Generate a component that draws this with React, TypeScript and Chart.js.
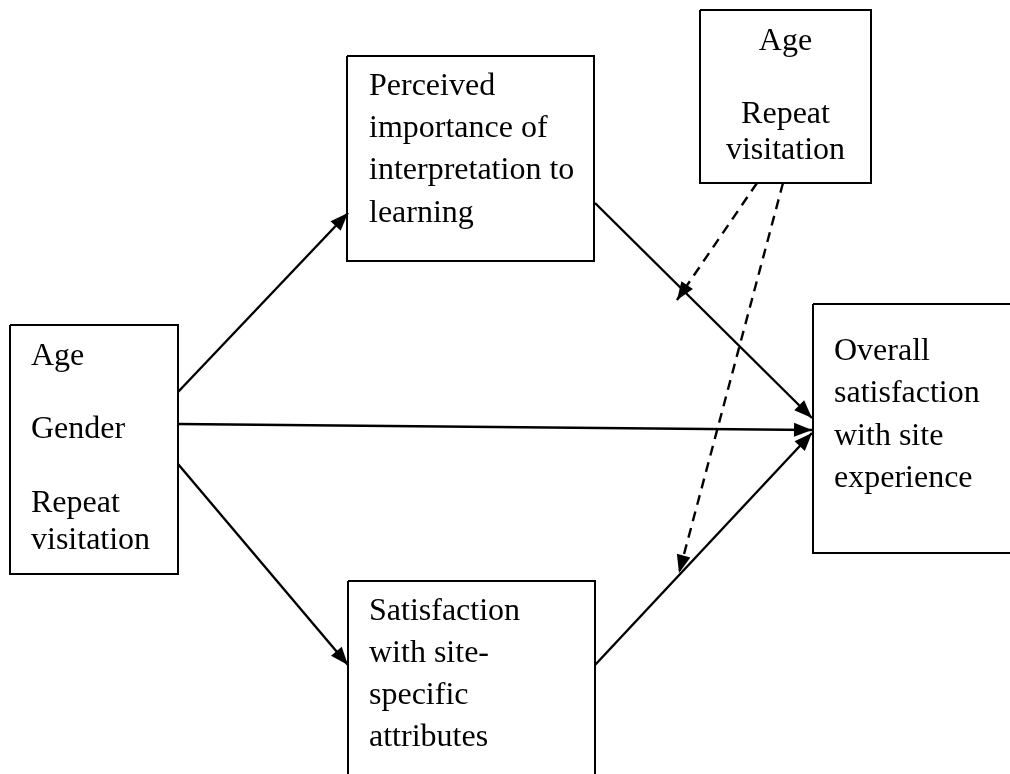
import React, { useEffect, useRef } from "react";
import { Chart, registerables } from "chart.js";

Chart.register(...registerables);

// ---- Diagram data (in picture units) ----
const boxLeft = [10, 347, 700, 813, 348];
const boxTop = [325, 56, 10, 304, 581];
const boxRight = [178, 594, 871, 1016, 595];
const boxBottom = [574, 261, 183, 553, 790];

// text labels: line text, baseline y, x anchor, centred or not
const textLines = [
  "Age", "Gender", "Repeat", "visitation",
  "Perceived", "importance of", "interpretation to", "learning",
  "Age", "Repeat", "visitation",
  "Overall", "satisfaction", "with site", "experience",
  "Satisfaction", "with site-", "specific", "attributes",
];
const textBaseline = [
  365, 438, 512, 549,
  95, 137, 179, 222,
  50, 123, 159,
  360, 402, 445, 487,
  620, 662, 704, 746,
];
const textX = [
  31, 31, 31, 31,
  369, 369, 369, 369,
  785.5, 785.5, 785.5,
  834, 834, 834, 834,
  369, 369, 369, 369,
];
const textCentered = [
  false, false, false, false,
  false, false, false, false,
  true, true, true,
  false, false, false, false,
  false, false, false, false,
];

// arrows
const arrowX1 = [178, 178, 178, 595, 595, 757, 783];
const arrowY1 = [392, 424, 464, 203, 665, 183, 183];
const arrowX2 = [348, 812, 348, 812, 812, 677, 679];
const arrowY2 = [213, 430, 665, 418, 433, 300, 573];
const arrowDashed = [false, false, false, false, false, true, true];

const W = 1010;
const H = 774;

export default function App() {
  const ref = useRef<HTMLCanvasElement | null>(null);

  useEffect(() => {
    document.body.style.margin = "0";
    const canvas = ref.current;
    if (!canvas) return;

    const datasets: any[] = [];
    for (let i = 0; i < boxLeft.length; i++) {
      datasets.push({
        data: [
          { x: boxLeft[i], y: boxTop[i] },
          { x: boxRight[i], y: boxTop[i] },
          { x: boxRight[i], y: boxBottom[i] },
          { x: boxLeft[i], y: boxBottom[i] },
          { x: boxLeft[i], y: boxTop[i] },
        ],
        showLine: true,
        borderColor: "#000",
        borderWidth: 2,
        pointRadius: 0,
        fill: false,
        tension: 0,
        borderJoinStyle: "miter",
      });
    }
    for (let i = 0; i < arrowX1.length; i++) {
      datasets.push({
        data: [
          { x: arrowX1[i], y: arrowY1[i] },
          { x: arrowX2[i], y: arrowY2[i] },
        ],
        showLine: true,
        borderColor: "#000",
        borderWidth: 2.4,
        borderDash: arrowDashed[i] ? [10, 7] : [],
        pointRadius: 0,
        fill: false,
        tension: 0,
      });
    }

    const overlay = {
      id: "overlay",
      afterDatasetsDraw(chart: any) {
        const ctx = chart.ctx;
        const xs = chart.scales.x;
        const ys = chart.scales.y;
        ctx.save();
        // arrowheads
        ctx.fillStyle = "#000";
        for (let i = 0; i < arrowX1.length; i++) {
          const x1 = xs.getPixelForValue(arrowX1[i]);
          const y1 = ys.getPixelForValue(arrowY1[i]);
          const x2 = xs.getPixelForValue(arrowX2[i]);
          const y2 = ys.getPixelForValue(arrowY2[i]);
          const ang = Math.atan2(y2 - y1, x2 - x1);
          const len = 18;
          const hw = 7;
          const bx = x2 - len * Math.cos(ang);
          const by = y2 - len * Math.sin(ang);
          const px = -Math.sin(ang);
          const py = Math.cos(ang);
          ctx.beginPath();
          ctx.moveTo(x2, y2);
          ctx.lineTo(bx + px * hw, by + py * hw);
          ctx.lineTo(bx - px * hw, by - py * hw);
          ctx.closePath();
          ctx.fill();
        }
        // text
        ctx.font = '32px "Liberation Serif", "Times New Roman", serif';
        ctx.textBaseline = "alphabetic";
        ctx.fillStyle = "#000";
        for (let i = 0; i < textLines.length; i++) {
          ctx.textAlign = textCentered[i] ? "center" : "left";
          ctx.fillText(
            textLines[i],
            xs.getPixelForValue(textX[i]),
            ys.getPixelForValue(textBaseline[i])
          );
        }
        ctx.restore();
      },
    };

    const chart = new Chart(canvas, {
      type: "scatter",
      data: { datasets },
      options: {
        animation: false,
        responsive: false,
        maintainAspectRatio: false,
        layout: { padding: 0 },
        plugins: {
          legend: { display: false },
          tooltip: { enabled: false },
        },
        scales: {
          x: { type: "linear", min: 0, max: W, display: false },
          y: { type: "linear", min: 0, max: H, reverse: true, display: false },
        },
      },
      plugins: [overlay],
    });
    return () => chart.destroy();
  }, []);

  return (
    <div style={{ width: W, height: H, background: "#fff" }}>
      <canvas ref={ref} width={W} height={H} style={{ display: "block" }} />
    </div>
  );
}
